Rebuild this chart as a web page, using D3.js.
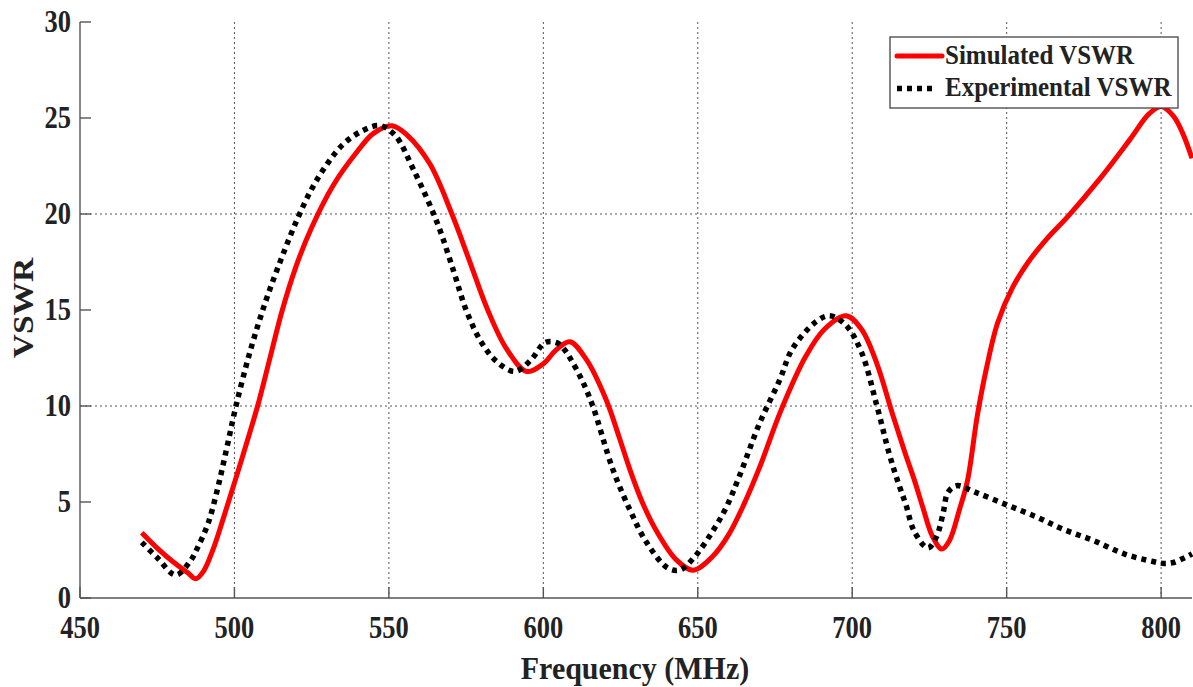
<!DOCTYPE html>
<html><head><meta charset="utf-8">
<script src="https://cdn.jsdelivr.net/npm/d3@7"></script>
<style>body{margin:0;background:#fff}svg{display:block}text{font-family:"Liberation Serif","Times New Roman",serif;font-weight:bold;fill:#222}</style>
</head><body><svg id="c" width="1193" height="687"></svg>
<script>
const xTicks = [450,500,550,600,650,700,750,800];
const yTicks = [0,5,10,15,20,25,30];
const yGrid = [10,20];
const seriesNames = ["Simulated VSWR","Experimental VSWR"];

const simFreq = [470,475,480,485,487.5,490,493,496.5,500.2,504,507.5,511.5,515.5,520,525,532,539.5,545,551,556,563.3,570.4,576,582,588,594.6,600,604,608.6,614,620.4,624.5,628,632,636.6,643,648.5,655,660,665,670,677,685,691,698,703,708,713,717,720.2,722.8,726,729,731.5,734.7,737.3,740.5,743.5,747,752,757,763,770,780,790,796,800,804,807,810];
const simVSWR = [3.4,2.6,1.9,1.3,1.0,1.4,2.5,4.2,6.1,8.1,10.0,12.5,15.0,17.3,19.3,21.5,23.2,24.2,24.6,24.1,22.6,20.0,17.6,15.0,13.0,11.8,12.2,12.9,13.35,12.4,10.3,8.4,6.7,5.0,3.5,2.0,1.45,2.2,3.3,4.9,6.8,9.8,12.6,14.0,14.7,14.0,12.2,9.6,7.6,6.1,4.75,3.2,2.55,3.0,4.6,6.1,9.5,12.0,14.3,16.2,17.5,18.7,19.9,21.8,23.9,25.2,25.6,25.1,24.2,22.9];

const expFreq = [470,475,481,485.6,488,491.5,494.7,497.5,500.5,505,510,515,520,525,530,535,541,547,552,558,565.5,571,575,580,585,590.8,596,600.5,604.3,607,609,612.5,616,622.5,628,633.4,640.3,644.2,649,654.9,659.3,663.6,670,676.5,680.7,688.4,692.7,698,703,708,712,714.7,717.5,720,724.5,727.3,729.4,731,733.8,740,750,760,768,778,788,797.4,801,804,807.6,810];
const expVSWR = [2.9,2.1,1.2,1.9,2.6,3.9,5.8,7.8,10.0,12.8,15.4,17.6,19.6,21.3,22.6,23.6,24.3,24.6,24.1,22.3,19.6,17.0,15.0,13.3,12.3,11.8,12.4,13.3,13.3,12.9,12.4,11.35,10.0,6.7,4.6,2.9,1.56,1.46,2.15,3.5,4.75,6.4,9.1,11.35,13.0,14.4,14.7,14.2,12.8,10.0,7.5,6.1,4.8,3.5,2.6,3.2,4.4,5.5,5.85,5.5,4.85,4.2,3.6,3.0,2.3,1.9,1.8,1.85,2.1,2.3];

const svg = d3.select("#c");
const x = d3.scaleLinear().domain([450,810]).range([80,1192]);
const y = d3.scaleLinear().domain([0,30]).range([598,22]);

function label(g, txt, px, py, size, anchor, sx, sy, rot) {
  return g.append("text").text(txt)
    .attr("transform", `translate(${px},${py})` + (rot ? ` rotate(${rot})` : "") + ` scale(${sx},${sy})`)
    .attr("font-size", size).attr("text-anchor", anchor);
}

// grid
const grid = svg.append("g").attr("stroke", "#555").attr("stroke-width", 1).attr("stroke-dasharray", "2,3");
grid.selectAll("line.v").data(xTicks.filter(d => d > 450)).join("line")
  .attr("x1", d => x(d)).attr("x2", d => x(d)).attr("y1", y(30)).attr("y2", y(0));
grid.selectAll("line.h").data(yGrid).join("line")
  .attr("x1", x(450)).attr("x2", x(810)).attr("y1", d => y(d)).attr("y2", d => y(d));

// axes
const ax = svg.append("g").attr("stroke", "#555").attr("stroke-width", 1.4).attr("fill", "none");
ax.append("line").attr("x1", x(450)).attr("x2", x(450)).attr("y1", y(30)).attr("y2", y(0));
ax.append("line").attr("x1", x(450)).attr("x2", x(810)).attr("y1", y(0)).attr("y2", y(0));
ax.selectAll("line.yt").data(yTicks).join("line")
  .attr("x1", x(450)).attr("x2", x(450) + 11).attr("y1", d => y(d)).attr("y2", d => y(d));
ax.selectAll("line.xt").data(xTicks).join("line")
  .attr("x1", d => x(d)).attr("x2", d => x(d)).attr("y1", y(0)).attr("y2", y(0) - 11);

const tl = svg.append("g");
xTicks.forEach(d => label(tl, d, x(d), 638, 26.5, "middle", 1, 1.18));
yTicks.forEach(d => label(tl, d, 71, y(d) + 9.5, 26.5, "end", 1, 1.18));

label(tl, "Frequency (MHz)", 635, 679, 30, "middle", 1, 1.07);
label(tl, "VSWR", 33, 308, 31, "middle", 1.08, 0.97, -90);

// lines
const line = d3.line().x(d => x(d[0])).y(d => y(d[1])).curve(d3.curveCatmullRom.alpha(0.5));
const simData = simFreq.map((f, i) => [f, simVSWR[i]]);
const expData = expFreq.map((f, i) => [f, expVSWR[i]]);

svg.append("path").datum(simData).attr("d", line)
  .attr("fill", "none").attr("stroke", "#ff0000").attr("stroke-width", 5).attr("stroke-linejoin", "round");
svg.append("path").datum(expData).attr("d", line)
  .attr("fill", "none").attr("stroke", "#000").attr("stroke-width", 5.5).attr("stroke-dasharray", "5,5");

// legend
const lg = svg.append("g");
lg.append("rect").attr("x", 890).attr("y", 37).attr("width", 288).attr("height", 71)
  .attr("fill", "#fff").attr("stroke", "#444").attr("stroke-width", 1.3);
lg.append("line").attr("x1", 897).attr("x2", 942).attr("y1", 56).attr("y2", 56)
  .attr("stroke", "#ff0000").attr("stroke-width", 5).attr("stroke-linecap", "round");
lg.append("line").attr("x1", 897).attr("x2", 937).attr("y1", 88.5).attr("y2", 88.5)
  .attr("stroke", "#000").attr("stroke-width", 5.5).attr("stroke-dasharray", "5,5");
label(lg, seriesNames[0], 945, 64, 25, "start", 1, 1.1);
label(lg, seriesNames[1], 945, 96, 25, "start", 1, 1.1);
</script></body></html>
